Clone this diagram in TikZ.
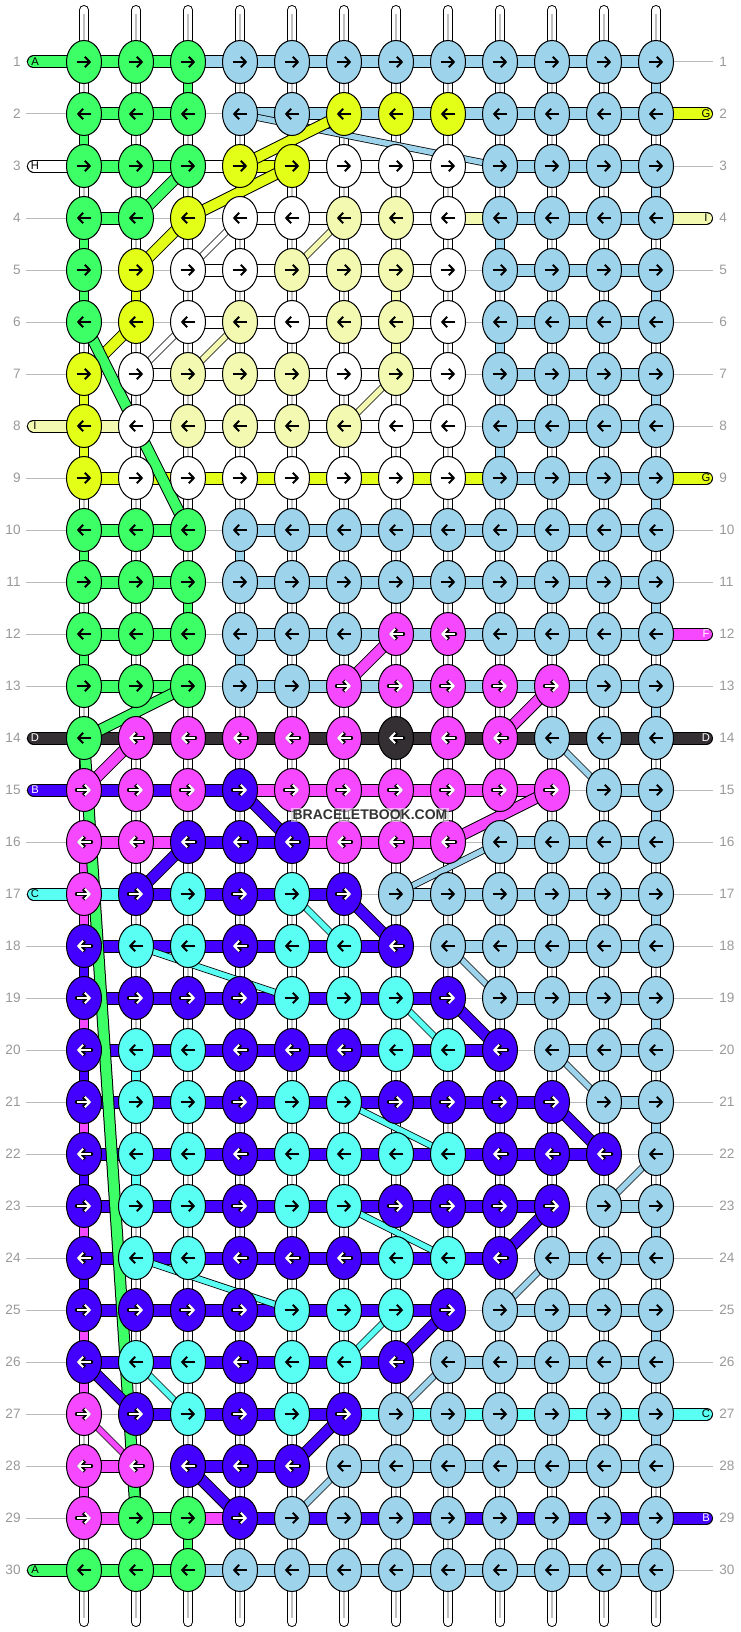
\documentclass[tikz,border=0pt]{standalone}
\usepackage{fontspec}
\setmainfont{Liberation Sans}
\usetikzlibrary{arrows.meta, shapes.geometric}

\pgfdeclarelayer{back}
\pgfdeclarelayer{mid}
\pgfdeclarelayer{front}
\pgfsetlayers{back,mid,main,front}

%% string colours
\definecolor{kG}{HTML}{3DFF66}
\definecolor{kY}{HTML}{E4FF17}
\definecolor{kW}{HTML}{FFFFFF}
\definecolor{kL}{HTML}{F3F9B1}
\definecolor{kB}{HTML}{9DD3EB}
\definecolor{kM}{HTML}{F648FF}
\definecolor{kP}{HTML}{4300FF}
\definecolor{kC}{HTML}{5AFFF3}
\definecolor{kD}{HTML}{332F33}

%% arrow colours and arrow outlines
\colorlet{aG}{black}\colorlet{aY}{black}\colorlet{aW}{black}\colorlet{aL}{black}
\colorlet{aB}{black}\colorlet{aC}{black}\colorlet{aM}{white}\colorlet{aP}{white}\colorlet{aD}{white}
\colorlet{oG}{kG}\colorlet{oY}{kY}\colorlet{oW}{kW}\colorlet{oL}{kL}
\colorlet{oB}{kB}\colorlet{oC}{kC}\colorlet{oM}{black}\colorlet{oP}{black}\colorlet{oD}{black}

\begin{document}
\begin{tikzpicture}[
  x=0.5pt, y=-0.5pt,
  knot/.style={ellipse, draw=black, line width=0.5pt, minimum width=17.5pt, minimum height=21.5pt, inner sep=0pt},
  warp/.style={draw=black, line width=0.5pt, double=white, double distance=4pt, line cap=round},
  warpmid/.style={draw=black!25, line width=0.75pt},
  rowline/.style={draw=black!27, line width=0.5pt},
  hseg/.style={draw=black, line width=0.5pt, double=#1, double distance=5.5pt},
  vseg/.style={draw=black, line width=0.5pt, double=#1, double distance=4pt},
  dthick/.style={draw=black, line width=0.5pt, double=#1, double distance=5pt},
  dthin/.style={draw=black, line width=0.4pt, double=#1, double distance=2.7pt},
  pill/.style={draw=black, line width=0.5pt, double=#1, double distance=5.5pt, line cap=round},
  knarrow/.style={line width=1pt, -{Straight Barb[length=2.5pt, width=5.2pt]}},
  rownum/.style={text=black!40, font=\fontsize{6.8}{7}\selectfont, inner sep=0pt},
  tag/.style={font=\fontsize{5.6}{6}\selectfont, inner sep=0pt}
]
\useasboundingbox (0,0) rectangle (740,1632);

%% Knots
\foreach \r/\ks in {
  1/{G,G,G,B,B,B,B,B,B,B,B,B},
  2/{G,G,G,B,B,Y,Y,Y,B,B,B,B},
  3/{G,G,G,Y,Y,W,W,W,B,B,B,B},
  4/{G,G,Y,W,W,L,L,W,B,B,B,B},
  5/{G,Y,W,W,L,L,L,W,B,B,B,B},
  6/{G,Y,W,L,W,L,L,W,B,B,B,B},
  7/{Y,W,L,L,L,W,L,W,B,B,B,B},
  8/{Y,W,L,L,L,L,W,W,B,B,B,B},
  9/{Y,W,W,W,W,W,W,W,B,B,B,B},
  10/{G,G,G,B,B,B,B,B,B,B,B,B},
  11/{G,G,G,B,B,B,B,B,B,B,B,B},
  12/{G,G,G,B,B,B,M,M,B,B,B,B},
  13/{G,G,G,B,B,M,M,M,M,M,B,B},
  14/{G,M,M,M,M,M,D,M,M,B,B,B},
  15/{M,M,M,P,M,M,M,M,M,M,B,B},
  16/{M,M,P,P,P,M,M,M,B,B,B,B},
  17/{M,P,C,P,C,P,B,B,B,B,B,B},
  18/{P,C,C,P,C,C,P,B,B,B,B,B},
  19/{P,P,P,P,C,C,C,P,B,B,B,B},
  20/{P,C,C,P,P,P,C,C,P,B,B,B},
  21/{P,C,C,P,C,C,P,P,P,P,B,B},
  22/{P,C,C,P,C,C,C,C,P,P,P,B},
  23/{P,C,C,P,C,C,P,P,P,P,B,B},
  24/{P,C,C,P,P,P,C,C,P,B,B,B},
  25/{P,P,P,P,C,C,C,P,B,B,B,B},
  26/{P,C,C,P,C,C,P,B,B,B,B,B},
  27/{M,P,C,P,C,P,B,B,B,B,B,B},
  28/{M,M,P,P,P,B,B,B,B,B,B,B},
  29/{M,G,G,P,B,B,B,B,B,B,B,B},
  30/{G,G,G,B,B,B,B,B,B,B,B,B}}{
  \pgfmathsetmacro\xa{ifthenelse(mod(\r,2)==1,-3.6,3.6)}
  \pgfmathsetmacro\xb{ifthenelse(mod(\r,2)==1,3.6,-3.6)}
  \foreach \k [count=\c] in \ks{
    \node[knot, fill=k\k] (k\r-\c) at (32+52*\c,10+52*\r) {};
    \draw[knarrow, draw=o\k, line width=2pt, line cap=round] ([xshift=\xa pt]k\r-\c.center) -- ([xshift=\xb pt]k\r-\c.center);
    \draw[knarrow, draw=a\k] ([xshift=\xa pt]k\r-\c.center) -- ([xshift=\xb pt]k\r-\c.center);
  }
}

%% Row guides and warp strings
\begin{pgfonlayer}{back}
\foreach \r in {1,...,30}{
  \coordinate (gl\r) at (26,10+52*\r);
  \coordinate (gr\r) at (713,10+52*\r);
  \draw[rowline] (gl\r) -- (gr\r);
}
\foreach \c in {1,...,12}{
  \coordinate (wt\c) at (32+52*\c,10);
  \coordinate (wb\c) at (32+52*\c,1622);
  \draw[warp] (wt\c) -- (wb\c);
  \draw[warpmid] ([yshift=-2pt]wt\c) -- ([yshift=2pt]wb\c);
}
\end{pgfonlayer}

\begin{pgfonlayer}{mid}
%% End strings
\foreach \r/\tg/\s in {1/A/G, 3/H/W, 8/I/L, 14/D/D, 15/B/P, 17/C/C, 30/A/G}{
  \coordinate (pl\r) at (33.5,10+52*\r);
  \draw[pill=k\s] (pl\r) -- (k\r-1.center);
}
\foreach \r/\tg/\s in {2/G/Y, 4/I/L, 9/G/Y, 12/F/M, 14/D/D, 27/C/C, 29/B/P}{
  \coordinate (pr\r) at (706.5,10+52*\r);
  \draw[pill=k\s] (k\r-12.center) -- (pr\r);
}

%% Row strings
\foreach \r/\hs in {
  1/{G,G,B,B,B,B,B,B,B,B,B},
  2/{G,G,N,B,B,B,B,B,B,B,B},
  3/{G,G,W,Y,W,W,W,W,B,B,B},
  4/{G,N,N,W,W,W,W,L,B,B,B},
  5/{N,N,W,W,W,W,W,N,B,B,B},
  6/{N,N,W,W,W,W,W,N,B,B,B},
  7/{N,W,W,W,W,W,W,N,B,B,B},
  8/{L,W,W,W,W,W,W,N,B,B,B},
  9/{Y,Y,Y,Y,Y,Y,Y,Y,B,B,B},
  10/{G,G,N,B,B,B,B,B,B,B,B},
  11/{G,G,N,B,B,B,B,B,B,B,B},
  12/{G,G,N,B,B,B,B,B,B,B,B},
  13/{G,G,N,B,B,B,B,B,B,B,B},
  14/{D,D,D,D,D,D,D,D,D,D,D},
  15/{P,P,P,M,M,M,M,M,M,N,B},
  16/{M,M,P,P,M,M,M,N,B,B,B},
  17/{C,P,P,P,P,N,B,B,B,B,B},
  18/{P,P,P,P,P,P,N,B,B,B,B},
  19/{P,P,P,P,P,P,P,N,B,B,B},
  20/{P,P,P,P,P,P,P,P,N,B,B},
  21/{P,P,P,P,P,P,P,P,P,N,B},
  22/{P,P,P,P,P,P,P,P,P,P,N},
  23/{P,P,P,P,P,P,P,P,P,N,B},
  24/{P,P,P,P,P,P,P,P,N,B,B},
  25/{P,P,P,P,P,P,P,N,B,B,B},
  26/{P,P,P,P,P,P,N,B,B,B,B},
  27/{N,P,P,P,P,C,C,C,C,C,C},
  28/{M,N,P,P,N,B,B,B,B,B,B},
  29/{M,G,M,P,P,P,P,P,P,P,P},
  30/{G,G,B,B,B,B,B,B,B,B,B}}{
  \foreach \h [count=\c] in \hs{
    \pgfmathtruncatemacro\cn{\c+1}
    \if\h N\else
      \draw[hseg=k\h] (k\r-\c.center) -- (k\r-\cn.center);
    \fi
  }
}

%% Turns
\foreach \r/\c/\s in {1/3/G, 1/12/B, 2/1/G, 3/12/B, 4/1/G, 4/9/B, 5/1/G, 5/2/Y, 5/7/L, 5/12/B,
  6/7/L, 6/9/B, 7/1/Y, 7/12/B, 8/1/Y, 8/9/B, 9/12/B, 10/1/G, 10/4/B, 11/3/G, 11/12/B,
  12/1/G, 12/4/B, 13/12/B, 14/1/G, 15/12/B, 16/1/M, 17/1/M, 17/12/B, 18/1/P, 19/1/M,
  19/12/B, 20/1/P, 20/2/C, 21/1/M, 21/12/B, 22/1/P, 22/2/C, 23/1/M, 23/12/B, 24/1/P,
  25/1/M, 25/12/B, 26/1/M, 27/12/B, 28/1/M, 28/2/G, 29/3/G, 29/12/B}{
  \pgfmathtruncatemacro\rn{\r+1}
  \draw[vseg=k\s] (k\r-\c.center) -- (k\rn-\c.center);
}

%% Crossing strings
\foreach \ra/\ca/\rb/\cb/\s in {2/4/3/9/B, 5/3/4/4/W, 5/5/4/6/L, 7/2/6/3/W, 7/3/6/4/L,
  8/6/7/7/L, 14/10/15/11/B, 17/7/16/9/B, 17/5/18/6/C, 18/2/19/5/C, 18/8/19/9/B,
  19/7/20/8/C, 20/10/21/11/B, 21/6/22/8/C, 23/11/22/12/B, 23/6/24/8/C, 24/2/25/5/C,
  25/9/24/10/B, 26/6/25/7/C, 26/2/27/3/C, 27/7/26/8/B, 27/1/28/2/M, 29/5/28/6/B}
  \draw[dthin=k\s] (k\ra-\ca.center) -- (k\rb-\cb.center);
\foreach \ra/\ca/\rb/\cb/\s in {2/6/3/4/Y, 3/5/4/3/Y, 4/3/5/2/Y, 6/2/7/1/Y, 3/3/4/2/G,
  6/1/10/3/G, 13/3/14/1/G, 14/1/29/2/G, 12/7/13/6/M, 13/10/14/9/M, 14/2/15/1/M,
  16/8/15/10/M, 15/4/16/5/P, 17/2/16/3/P, 17/6/18/7/P, 19/8/20/9/P, 21/10/22/11/P,
  23/10/24/9/P, 26/7/25/8/P, 26/1/27/2/P, 28/5/27/6/P, 28/3/29/4/P}
  \draw[dthick=k\s] (k\ra-\ca.center) -- (k\rb-\cb.center);
\end{pgfonlayer}

%% Labels
\begin{pgfonlayer}{front}
\foreach \r in {1,...,30}{
  \node[rownum, anchor=east] (nl\r) at (21,10+52*\r) {\r};
  \node[rownum, anchor=west] (nr\r) at (719,10+52*\r) {\r};
}
\foreach \r/\tg/\s in {1/A/G, 3/H/W, 8/I/L, 14/D/D, 15/B/P, 17/C/C, 30/A/G}
  \node[tag, text=a\s] (tl\r) at (35,10+52*\r) {\tg};
\foreach \r/\tg/\s in {2/G/Y, 4/I/L, 9/G/Y, 12/F/M, 14/D/D, 27/C/C, 29/B/P}
  \node[tag, text=a\s] (tr\r) at (706,10+52*\r) {\tg};
\node[font=\bfseries\fontsize{7}{7}\selectfont, text=black!80, fill=white, fill opacity=0.55, text opacity=1, inner sep=1pt] (wm) at (370,815) {BRACELETBOOK.COM};
\end{pgfonlayer}

\end{tikzpicture}
\end{document}
